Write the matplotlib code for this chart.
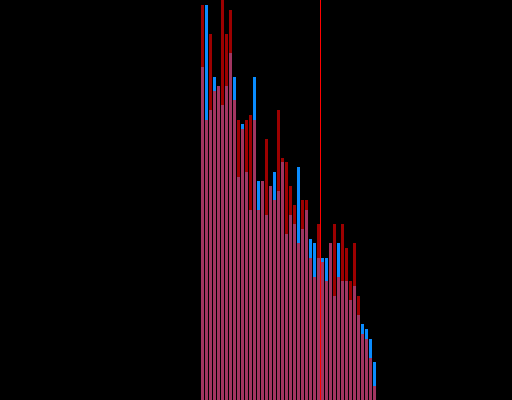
import numpy as np
import matplotlib
matplotlib.use("Agg")
import matplotlib.pyplot as plt

# bar heights (44 bins, same bins for both series)
blue_vals = [333, 395, 290, 323, 314, 295, 314, 347, 323, 223,
             276, 228, 190, 323, 219, 219, 185, 214, 228, 209,
             238, 166, 185, 176, 233, 171, 190, 161, 157, 142,
             142, 142, 157, 104, 157, 119, 119, 100, 114, 85,
             76, 71, 61, 38]
red_vals = [395, 280, 366, 309, 314, 400, 366, 390, 300, 280,
            271, 280, 285, 280, 190, 219, 261, 214, 200, 290,
            242, 238, 214, 195, 157, 200, 200, 142, 123, 176,
            138, 119, 157, 176, 123, 176, 152, 119, 157, 104,
            66, 61, 42, 14]
marker_x = 29.75

bins = np.arange(len(blue_vals))

fig = plt.figure(figsize=(5.12, 4.0), dpi=100, facecolor="black")
ax = fig.add_axes([0, 0, 1, 1])
ax.set_facecolor("black")

ax.bar(bins, blue_vals, width=0.75, align="edge", color="#0a8cff", linewidth=0)
ax.bar(bins, red_vals, width=0.75, align="edge", color="#ff0000", alpha=0.62, linewidth=0)
# marker line, one pixel wide
ax.axvspan(marker_x, marker_x + 0.25, color="#ff0000", linewidth=0)

ax.set_xlim(-201 / 4, (512 - 201) / 4)
ax.set_ylim(0, 400)
ax.axis("off")

fig.savefig("out.png", dpi=100, facecolor="black")
